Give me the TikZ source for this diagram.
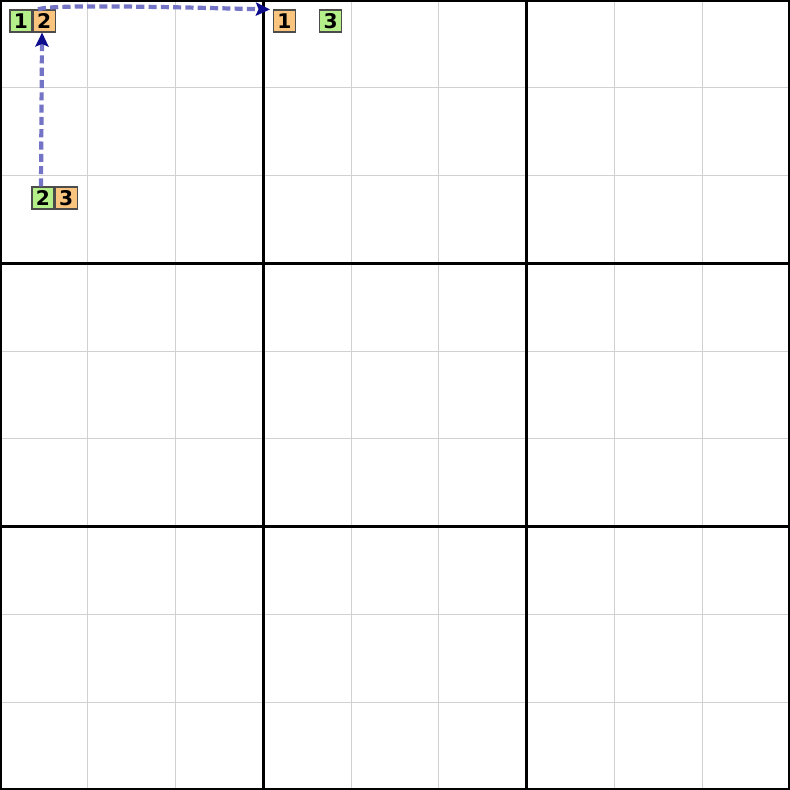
\documentclass[tikz,border=0pt]{standalone}
\usepackage{fontspec}
\setmainfont{DejaVu Sans}
\usetikzlibrary{positioning}
\usetikzlibrary{arrows.meta}
\definecolor{candgreen}{HTML}{B5EF8A}
\definecolor{candorange}{HTML}{F8C47E}
\definecolor{linkline}{HTML}{7474C6}
\definecolor{linkhead}{HTML}{0C0C8C}

\begin{document}
\begin{tikzpicture}[x=0.02cm, y=-0.02cm,
	cand/.style={draw=black!70, line width=0.6pt, minimum size=0.44cm, inner sep=0pt, font=\fontsize{11.5}{13}\selectfont\bfseries},
	gcand/.style={cand, fill=candgreen},
	ocand/.style={cand, fill=candorange},
	thinrule/.style={black!18, line width=0.5pt},
	thickrule/.style={black, line width=1.4pt},
	link/.style={linkline, line width=2.4pt, dash pattern=on 4.6pt off 2.4pt, -{Stealth[length=8pt, width=7.5pt, inset=1.5pt, color=linkhead]}}]
	 \useasboundingbox (0,0) rectangle (790,790);
	 % board
	 \foreach \i in {1,2,4,5,7,8} {
	 	\draw[thinrule] (\i*790/9,0) -- (\i*790/9,790);
	 	\draw[thinrule] (0,\i*790/9) -- (790,\i*790/9);
	 }
	 \foreach \i in {3,6} {
	 	\draw[thickrule] (\i*790/9,0) -- (\i*790/9,790);
	 	\draw[thickrule] (0,\i*790/9) -- (790,\i*790/9);
	 }
	 \draw[thickrule, line width=2pt] (0,0) rectangle (790,790);
	 % candidates
	 \node[gcand] (g1) at (21,21) {1};
	 \node[ocand, right=0pt of g1] (o2) {2};
	 \node[gcand] (g2) at (43,198) {2};
	 \node[ocand, right=0pt of g2] (o3) {3};
	 \node[ocand] (o1) at (284.5,21) {1};
	 \node[gcand, right=0.46cm of o1] (g3) {3};
	 % links
	 \draw[link] ([xshift=-0.04cm]g2.north) -- ([xshift=-0.04cm]o2.south);
	 \draw[link] ([xshift=-0.12cm]o2.north) .. controls +(10,-5) and +(-120,-3) .. ([xshift=-0.06cm]o1.north west);
 \end{tikzpicture}
\end{document}
